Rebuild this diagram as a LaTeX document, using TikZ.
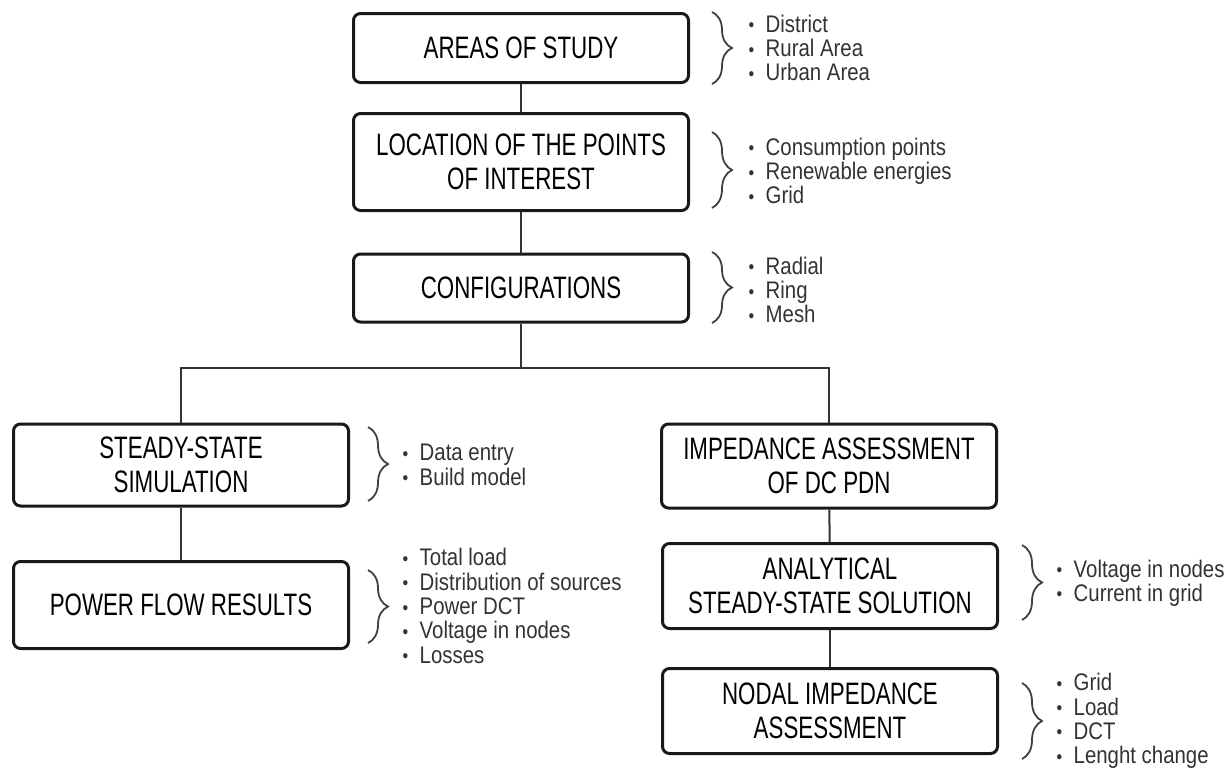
\documentclass[tikz,border=0pt]{standalone}
\usepackage{fontspec}
\setmainfont{Liberation Sans}[FakeStretch=0.72]
\newfontfamily\listfont{Liberation Sans}[FakeStretch=0.85]
\usepackage{tikz}
\usetikzlibrary{decorations.pathreplacing}
\newcommand{\bul}{\makebox[17pt][l]{\raisebox{0.5pt}{\fontsize{19}{19}\selectfont\textbullet}}}

\begin{document}
\begin{tikzpicture}[x=1pt,y=1pt,yscale=-1,xscale=1,
  stage/.style={draw=black!90,line width=3pt,rounded corners=7pt,minimum width=335pt,align=center,inner sep=2pt,font=\fontsize{31}{34}\selectfont},
  items/.style={anchor=west,align=left,inner sep=0pt,text=black!80,font=\listfont\fontsize{24}{24.3}\selectfont},
  link/.style={draw=black!80,line width=2pt},
  curly/.style={draw=black!75,line width=1.8pt,decorate,decoration={brace,amplitude=20pt}}]
%set diagram left start at 0, and has height of 769
\useasboundingbox (0,0) rectangle (1231,769);

%Shape: Rectangle [areas of study]
\node[stage,minimum height=69pt] (area) at (521,48) {AREAS OF STUDY};
%Shape: Rectangle [location]
\node[stage,minimum height=97pt] (loc) at (521,162) {LOCATION OF THE POINTS\\OF INTEREST};
%Shape: Rectangle [configurations]
\node[stage,minimum height=68pt] (conf) at (521,288) {CONFIGURATIONS};
%Shape: Rectangle [simulation]
\node[stage,minimum height=82pt] (sim) at (181,465) {STEADY-STATE\\SIMULATION};
%Shape: Rectangle [power flow]
\node[stage,minimum height=87pt] (pflow) at (181,605) {POWER FLOW RESULTS};
%Shape: Rectangle [impedance]
\node[stage,minimum height=84pt] (imp) at (829,466) {IMPEDANCE ASSESSMENT\\OF DC PDN};
%Shape: Rectangle [analytical]
\node[stage,minimum height=85pt] (anal) at (830,586) {ANALYTICAL\\STEADY-STATE SOLUTION};
%Shape: Rectangle [nodal]
\node[stage,minimum height=85pt] (nodal) at (830,711) {NODAL IMPEDANCE\\ASSESSMENT};

%Straight Lines
\coordinate (split) at (521,368);
\draw[link] (area) -- (loc);
\draw[link] (loc) -- (conf);
\draw[link] (conf) -- (split);
\draw[link] (sim.north) |- (split) -| (imp.north);
\draw[link] (sim) -- (pflow);
\draw[link] (imp) -- (anal);
\draw[link] (anal) -- (nodal);

%Shape: Braces
\draw[curly] (712,12) -- (712,84);
\draw[curly] (712,132) -- (712,208);
\draw[curly] (712,252) -- (712,323);
\draw[curly] (368,427) -- (368,501);
\draw[curly] (368,570) -- (368,643);
\draw[curly] (1022,545) -- (1022,620);
\draw[curly] (1022,683) -- (1022,759);

% Text Node
\node[items] (arealist) at (748.5,48) {\bul District\\\bul Rural Area\\\bul Urban Area};
% Text Node
\node[items] (loclist) at (748.5,171) {\bul Consumption points\\\bul Renewable energies\\\bul Grid};
% Text Node
\node[items] (conflist) at (748.5,290) {\bul Radial\\\bul Ring\\\bul Mesh};
% Text Node
\node[items] (simlist) at (402.5,465) {\bul Data entry\\\bul Build model};
% Text Node
\node[items] (pflowlist) at (402.5,606) {\bul Total load\\\bul Distribution of sources\\\bul Power DCT\\\bul Voltage in nodes\\\bul Losses};
% Text Node
\node[items] (anallist) at (1056.5,583) {\bul Voltage in nodes\\\bul Current in grid};
% Text Node
\node[items] (nodallist) at (1056.5,721) {\bul Grid\\\bul Load\\\bul DCT\\\bul Lenght change};

\end{tikzpicture}
\end{document}
